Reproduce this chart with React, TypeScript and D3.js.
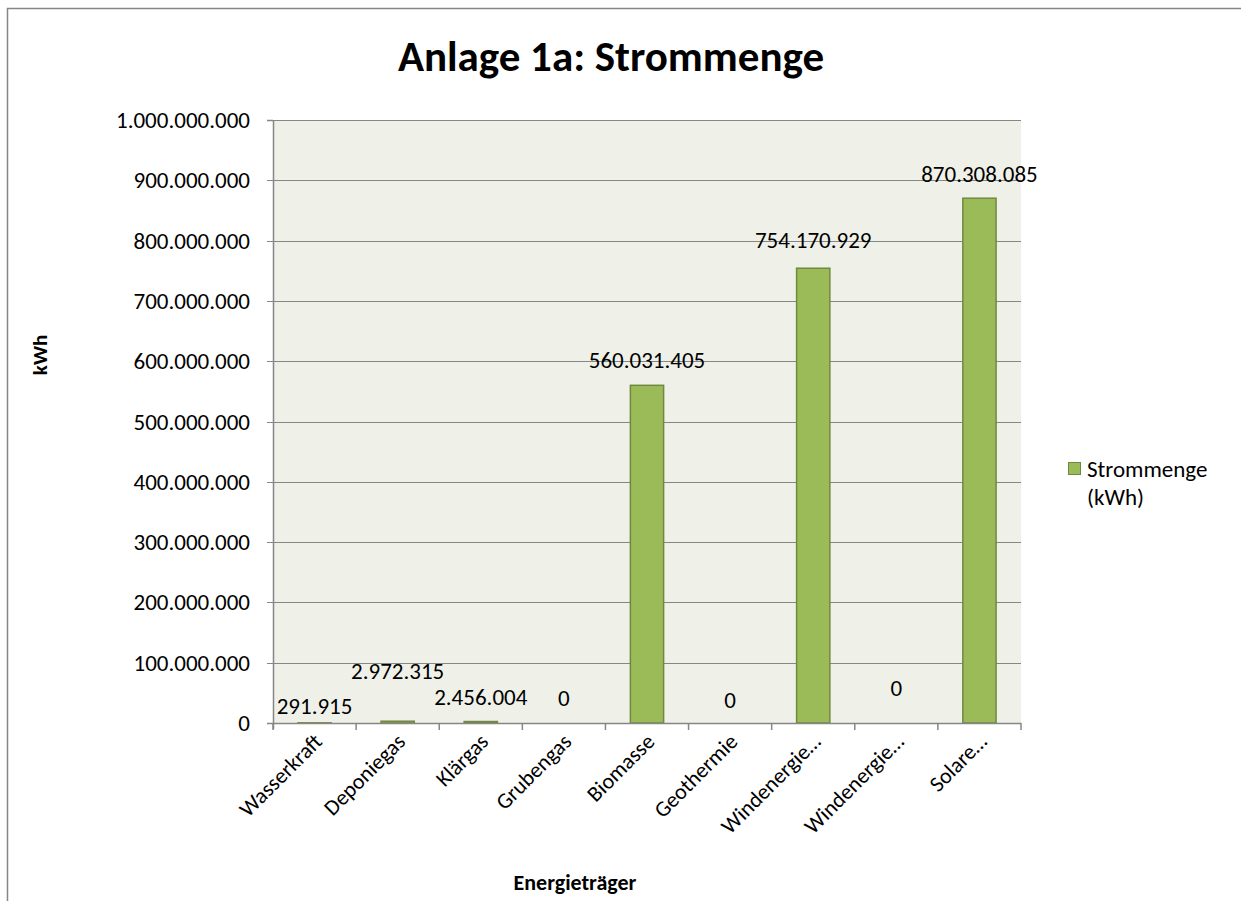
import * as d3 from 'd3';
import React, { useEffect, useRef } from 'react';

const categories = [
  'Wasserkraft', 'Deponiegas', 'Klärgas', 'Grubengas', 'Biomasse',
  'Geothermie', 'Windenergie…', 'Windenergie…', 'Solare…',
];
const strommenge = [291915, 2972315, 2456004, 0, 560031405, 0, 754170929, 0, 870308085];
const valueLabels = [
  '291.915', '2.972.315', '2.456.004', '0', '560.031.405',
  '0', '754.170.929', '0', '870.308.085',
];
const yTicks = [0, 100000000, 200000000, 300000000, 400000000, 500000000, 600000000, 700000000, 800000000, 900000000, 1000000000];

// Excel had hand-placed labels; how far above the bar top each label centre sits
const labelLift = [17, 50, 25, 25, 25, 23, 28, 35, 24];

const FONT = 'Calibri, Carlito, Lato, "Open Sans", sans-serif';
const W = 1241;
const H = 901;

const fmt = (v: number) => d3.format(',')(v).replace(/,/g, '.');

export default function App() {
  const ref = useRef<SVGSVGElement>(null);

  useEffect(() => {
    const svg = d3.select(ref.current);
    svg.selectAll('*').remove();

    const left = 273, right = 1021, top = 120, bottom = 723;

    // chart frame
    svg.append('rect')
      .attr('x', 7.5).attr('y', 8.5)
      .attr('width', W + 20).attr('height', H + 20)
      .attr('fill', '#fff').attr('stroke', '#868686').attr('stroke-width', 1.5);

    const x = d3.scaleBand<number>()
      .domain(d3.range(categories.length))
      .range([left, right])
      .paddingInner(0);
    const y = d3.scaleLinear().domain([0, 1000000000]).range([bottom, top]);

    svg.append('rect')
      .attr('x', left).attr('y', top)
      .attr('width', right - left).attr('height', bottom - top)
      .attr('fill', '#eff1e9');

    // gridlines
    svg.append('g')
      .selectAll('line')
      .data(yTicks.slice(1))
      .join('line')
      .attr('x1', left - 6).attr('x2', right)
      .attr('y1', (d) => Math.round(y(d)) + 0.5)
      .attr('y2', (d) => Math.round(y(d)) + 0.5)
      .attr('stroke', '#868686').attr('stroke-width', 1);

    // y tick labels
    svg.append('g')
      .selectAll('text')
      .data(yTicks)
      .join('text')
      .attr('x', 250)
      .attr('y', (d) => y(d))
      .attr('dy', '0.35em')
      .attr('text-anchor', 'end')
      .attr('font-family', FONT)
      .attr('font-size', 23)
      .attr('fill', '#000')
      .text((d) => fmt(d));

    // bars
    const bw = x.bandwidth() / 2.5;
    svg.append('g')
      .selectAll('rect')
      .data(strommenge)
      .join('rect')
      .attr('x', (_, i) => (x(i) as number) + (x.bandwidth() - bw) / 2)
      .attr('y', (d) => y(d))
      .attr('width', bw)
      .attr('height', (d) => bottom - y(d))
      .attr('fill', '#9bbb59')
      .attr('stroke', (d) => (d > 0 ? '#71893f' : 'none'))
      .attr('stroke-width', 1.5);

    // axes lines
    svg.append('line')
      .attr('x1', left + 0.5).attr('x2', left + 0.5)
      .attr('y1', top).attr('y2', bottom + 6)
      .attr('stroke', '#868686').attr('stroke-width', 1.5);
    svg.append('line')
      .attr('x1', left - 6).attr('x2', right)
      .attr('y1', bottom + 0.5).attr('y2', bottom + 0.5)
      .attr('stroke', '#868686').attr('stroke-width', 1.5);
    svg.append('line')
      .attr('x1', left - 6).attr('x2', left)
      .attr('y1', top + 0.5).attr('y2', top + 0.5)
      .attr('stroke', '#868686').attr('stroke-width', 1.5);

    // x tick marks on band boundaries
    const bounds = d3.range(categories.length + 1).map((i) => left + i * x.step());
    svg.append('g')
      .selectAll('line')
      .data(bounds)
      .join('line')
      .attr('x1', (d) => d).attr('x2', (d) => d)
      .attr('y1', bottom).attr('y2', bottom + 7)
      .attr('stroke', '#868686').attr('stroke-width', 1.5);

    // category labels
    svg.append('g')
      .selectAll('text')
      .data(categories)
      .join('text')
      .attr('transform', (_, i) => {
        const cx = (x(i) as number) + x.bandwidth() / 2 - 2;
        return `translate(${cx},${bottom + 9}) rotate(-45)`;
      })
      .attr('text-anchor', 'end')
      .attr('dy', '0.7em')
      .attr('font-family', FONT)
      .attr('font-size', 22)
      .attr('fill', '#000')
      .text((d) => d);

    // data labels
    svg.append('g')
      .selectAll('text')
      .data(strommenge)
      .join('text')
      .attr('x', (_, i) => (x(i) as number) + x.bandwidth() / 2)
      .attr('y', (d, i) => y(d) - labelLift[i])
      .attr('dy', '0.35em')
      .attr('text-anchor', 'middle')
      .attr('font-family', FONT)
      .attr('font-size', 23)
      .attr('fill', '#000')
      .text((_, i) => valueLabels[i]);

    // title
    svg.append('text')
      .attr('x', 611).attr('y', 71)
      .attr('text-anchor', 'middle')
      .attr('font-family', FONT)
      .attr('font-weight', 'bold')
      .attr('font-size', 43)
      .text('Anlage 1a: Strommenge');

    // axis titles
    svg.append('text')
      .attr('transform', 'translate(47,355) rotate(-90)')
      .attr('text-anchor', 'middle')
      .attr('font-family', FONT)
      .attr('font-weight', 'bold')
      .attr('font-size', 21)
      .text('kWh');
    svg.append('text')
      .attr('x', 575).attr('y', 890)
      .attr('text-anchor', 'middle')
      .attr('font-family', FONT)
      .attr('font-weight', 'bold')
      .attr('font-size', 22)
      .text('Energieträger');

    // legend
    const lg = svg.append('g');
    lg.append('rect')
      .attr('x', 1068.5).attr('y', 462.5).attr('width', 12).attr('height', 12)
      .attr('fill', '#9bbb59').attr('stroke', '#71893f').attr('stroke-width', 1);
    lg.append('text')
      .attr('x', 1087).attr('y', 477)
      .attr('font-family', FONT).attr('font-size', 23)
      .text('Strommenge');
    lg.append('text')
      .attr('x', 1087).attr('y', 505)
      .attr('font-family', FONT).attr('font-size', 23)
      .text('(kWh)');
  }, []);

  return (
    <svg
      ref={ref}
      width={W}
      height={H}
      style={{ position: 'absolute', left: 0, top: 0, background: '#fff' }}
    />
  );
}
